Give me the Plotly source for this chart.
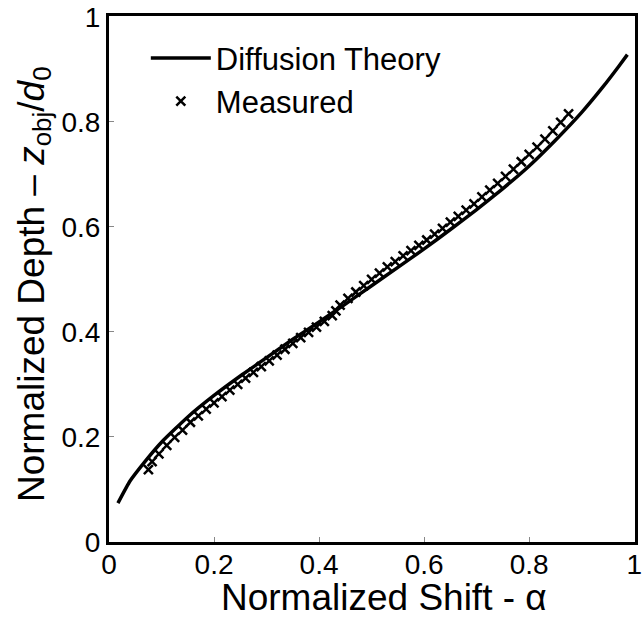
import plotly.graph_objects as go

# Diffusion theory curve: normalized depth vs normalized shift
theory_alpha = [0.017, 0.04, 0.07, 0.10, 0.15, 0.20, 0.25, 0.30, 0.35, 0.40, 0.45,
                0.50, 0.55, 0.60, 0.65, 0.70, 0.75, 0.80, 0.85, 0.90, 0.94, 0.97, 0.987]
theory_depth = [0.074, 0.116, 0.155, 0.19, 0.238, 0.279, 0.316, 0.351, 0.386, 0.419, 0.453,
                0.488, 0.523, 0.558, 0.595, 0.633, 0.673, 0.716, 0.765, 0.818, 0.866, 0.905, 0.928]

# Measured points
meas_alpha = [0.075, 0.082, 0.095, 0.11, 0.125, 0.14, 0.155, 0.17, 0.185, 0.20, 0.215, 0.23,
              0.245, 0.26, 0.275, 0.29, 0.305, 0.32, 0.335, 0.35, 0.365, 0.38, 0.395, 0.41,
              0.425, 0.432, 0.44, 0.455, 0.47, 0.485, 0.50, 0.515, 0.53, 0.545, 0.56, 0.575,
              0.59, 0.605, 0.62, 0.635, 0.65, 0.665, 0.68, 0.695, 0.71, 0.725, 0.74, 0.755,
              0.77, 0.785, 0.80, 0.815, 0.83, 0.845, 0.86, 0.875]
meas_depth = [0.138, 0.153, 0.168, 0.184, 0.199, 0.213, 0.228, 0.240, 0.253, 0.265, 0.277, 0.289,
              0.300, 0.312, 0.323, 0.334, 0.345, 0.356, 0.367, 0.378, 0.389, 0.399, 0.409, 0.420,
              0.431, 0.440, 0.451, 0.464, 0.476, 0.488, 0.500, 0.512, 0.524, 0.534, 0.545, 0.555,
              0.565, 0.575, 0.586, 0.597, 0.609, 0.620, 0.632, 0.644, 0.657, 0.670, 0.683, 0.696,
              0.710, 0.724, 0.738, 0.752, 0.767, 0.783, 0.799, 0.815]

tick_vals = [0, 0.2, 0.4, 0.6, 0.8, 1]
tick_text = ["0", "0.2", "0.4", "0.6", "0.8", "1"]

FONT = "Liberation Sans, Arial, sans-serif"

fig = go.Figure()
fig.add_trace(go.Scatter(
    x=theory_alpha, y=theory_depth, mode="lines", name="Diffusion Theory",
    line=dict(color="black", width=3.5, shape="spline", smoothing=0.4),
))
fig.add_trace(go.Scatter(
    x=meas_alpha, y=meas_depth, mode="markers", name="Measured",
    marker=dict(symbol="x-thin", size=9, color="black", line=dict(color="black", width=2.5)),
))

axis_common = dict(
    range=[0, 1.0015], tickvals=tick_vals, ticktext=tick_text,
    showline=True, mirror=True, linecolor="black", linewidth=3,
    ticks="inside", ticklen=5, tickcolor="#888", tickwidth=1,
    showgrid=False, zeroline=False, ticklabeloverflow="allow",
    tickfont=dict(family=FONT, size=28, color="black"),
)

fig.update_layout(
    width=644, height=619,
    margin=dict(l=109, r=2, t=15, b=77),
    paper_bgcolor="white", plot_bgcolor="white",
    font=dict(family=FONT, color="black"),
    showlegend=True,
    legend=dict(
        x=0.07, y=0.971, xanchor="left", yanchor="top",
        bgcolor="rgba(0,0,0,0)", borderwidth=0,
        font=dict(family=FONT, size=31, color="black"),
        itemwidth=60, tracegroupgap=0,
    ),
    xaxis=dict(**axis_common, ticklabelstandoff=-5),
    yaxis=dict(**axis_common),
    annotations=[
        dict(text="Normalized Shift - α", xref="paper", yref="paper",
             x=0.523, y=-0.105, xanchor="center", yanchor="middle",
             showarrow=False, font=dict(family=FONT, size=37, color="black")),
        dict(text="Normalized Depth – <i>z</i><sub>obj</sub>/<i>d</i><sub>0</sub>",
             xref="paper", yref="paper", x=-0.143, y=0.49, textangle=-90,
             xanchor="center", yanchor="middle",
             showarrow=False, font=dict(family=FONT, size=37, color="black")),
    ],
)

fig.write_html("out.html")
